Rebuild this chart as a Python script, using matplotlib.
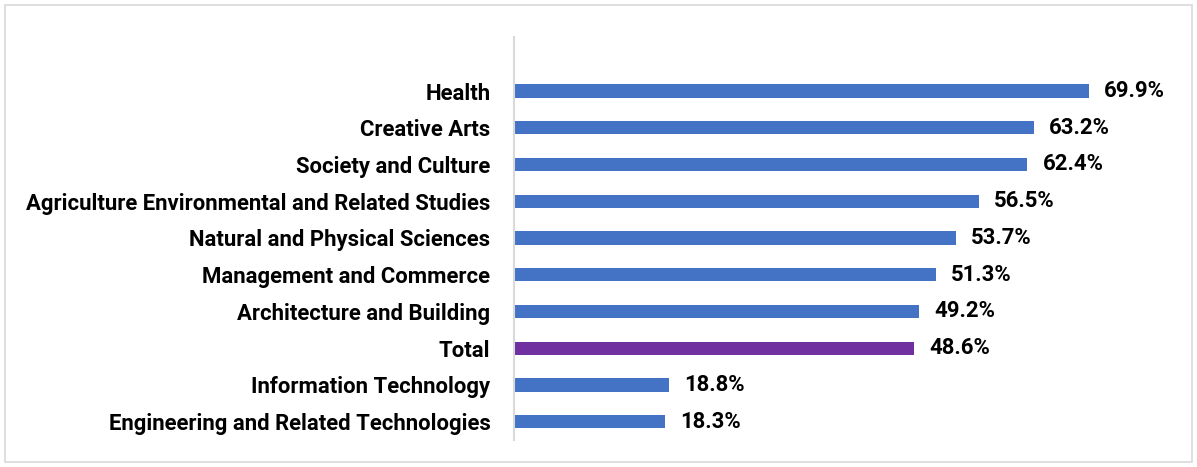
import matplotlib
matplotlib.use("Agg")
import matplotlib.pyplot as plt
from matplotlib.patches import Rectangle

categories = ["Engineering and Related Technologies", "Information Technology", "Total",
              "Architecture and Building", "Management and Commerce", "Natural and Physical Sciences",
              "Agriculture Environmental and Related Studies", "Society and Culture",
              "Creative Arts", "Health"]
values = [18.3, 18.8, 48.6, 49.2, 51.3, 53.7, 56.5, 62.4, 63.2, 69.9]
colors = ["#4472C4", "#4472C4", "#7030A0", "#4472C4", "#4472C4", "#4472C4",
          "#4472C4", "#4472C4", "#4472C4", "#4472C4"]

plt.rcParams['font.family'] = ['Roboto', 'DejaVu Sans']
fig = plt.figure(figsize=(11.97, 4.67), dpi=100)
fig.patches.append(Rectangle((5/1197, 5/467), 1187/1197, 457/467, transform=fig.transFigure,
                             fill=False, edgecolor="#d9d9d9", linewidth=1.2))
ax = fig.add_axes([514/1197, 27/467, 658/1197, 403/467])
y = list(range(len(categories)))
ax.barh(y, values, height=0.36, color=colors)
ax.set_xlim(0, 80)
ax.set_ylim(-0.5, 10.47)
ax.set_yticks(y)
ax.set_yticklabels(categories, fontsize=14, fontweight='bold', color='black')
ax.tick_params(axis='y', length=0, pad=17)
ax.set_xticks([])
for s in ['top', 'right', 'bottom']:
    ax.spines[s].set_visible(False)
ax.spines['left'].set_color('#d9d9d9')
ax.spines['left'].set_linewidth(1.5)
for yi, v in zip(y, values):
    ax.annotate(f"{v:.1f}%", (v, yi), xytext=(11, 0), textcoords='offset points',
                ha='left', va='center', fontsize=14, fontweight='bold', color='black')

# fit label font size so the longest label spans roughly the reference width
fig.canvas.draw()
r = fig.canvas.get_renderer()
w = max(t.get_window_extent(r).width for t in ax.get_yticklabels())
fs = 14 * 465 / w
for t in ax.get_yticklabels():
    t.set_fontsize(fs)
for t in ax.texts:
    t.set_fontsize(fs)
fig.savefig("out.png", dpi=100)
